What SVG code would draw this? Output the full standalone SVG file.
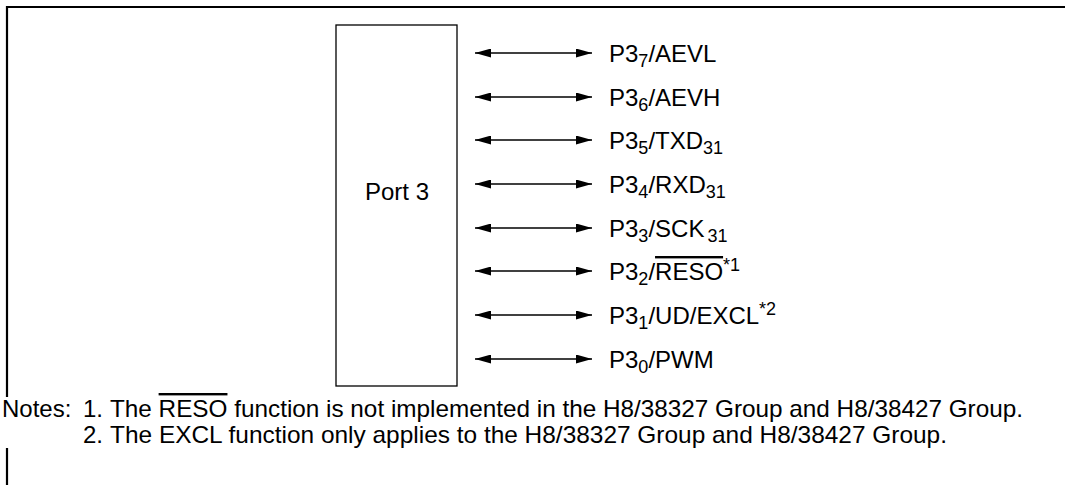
<svg xmlns="http://www.w3.org/2000/svg" width="1065" height="485" viewBox="0 0 1065 485">
<style>
text{font-family:"Liberation Sans",Arial,sans-serif;font-size:24px;fill:#000}
.frame{stroke:#000;stroke-width:2.2;fill:none}
.box{stroke:#000;stroke-width:1.3;fill:#fff}
.arr{stroke:#000;stroke-width:1.3;fill:none;marker-start:url(#ah);marker-end:url(#ah)}
.sub{font-size:18px}
.ov{text-decoration:overline}
</style>
<defs>
<marker id="ah" viewBox="0 0 16 9" refX="16" refY="4.5" markerWidth="16" markerHeight="9" markerUnits="userSpaceOnUse" orient="auto-start-reverse">
<path d="M0,0 L16,4.5 L0,9 Z" fill="#000"/>
</marker>
</defs>
<rect width="1065" height="485" fill="#fff"/>
<g id="frame">
<line class="frame" x1="6" y1="7" x2="1065" y2="7"/>
<line class="frame" x1="7" y1="6" x2="7" y2="397"/>
<line class="frame" x1="7" y1="448" x2="7" y2="485"/>
</g>
<g id="port3">
<rect class="box" x="336" y="25" width="121" height="361"/>
<text x="397" y="200" text-anchor="middle">Port 3</text>
</g>
<g id="connectors">
<line class="arr" x1="475" y1="53" x2="592" y2="53"/>
<line class="arr" x1="475" y1="97" x2="592" y2="97"/>
<line class="arr" x1="475" y1="140" x2="592" y2="140"/>
<line class="arr" x1="475" y1="184" x2="592" y2="184"/>
<line class="arr" x1="475" y1="228" x2="592" y2="228"/>
<line class="arr" x1="475" y1="271" x2="592" y2="271"/>
<line class="arr" x1="475" y1="315" x2="592" y2="315"/>
<line class="arr" x1="475" y1="359" x2="592" y2="359"/>
</g>
<g id="pins">
<text x="609" y="62">P3<tspan class="sub" dy="5">7</tspan><tspan dy="-5">/AEVL</tspan></text>
<text x="609" y="106">P3<tspan class="sub" dy="5">6</tspan><tspan dy="-5">/AEVH</tspan></text>
<text x="609" y="149">P3<tspan class="sub" dy="5">5</tspan><tspan dy="-5">/TXD</tspan><tspan class="sub" dy="5">31</tspan></text>
<text x="609" y="193">P3<tspan class="sub" dy="5">4</tspan><tspan dy="-5">/RXD</tspan><tspan class="sub" dy="5">31</tspan></text>
<text x="609" y="237">P3<tspan class="sub" dy="5">3</tspan><tspan dy="-5">/SCK</tspan><tspan class="sub" dx="3" dy="5">31</tspan></text>
<text x="609" y="280">P3<tspan class="sub" dy="5">2</tspan><tspan dy="-5">/</tspan><tspan class="ov">RESO</tspan><tspan class="sub" dy="-9">*1</tspan></text>
<text x="609" y="324">P3<tspan class="sub" dy="5">1</tspan><tspan dy="-5">/UD/EXCL</tspan><tspan class="sub" dy="-9">*2</tspan></text>
<text x="609" y="368">P3<tspan class="sub" dy="5">0</tspan><tspan dy="-5">/PWM</tspan></text>
</g>
<g id="notes">
<text x="2" y="417">Notes:</text>
<text x="83" y="417">1.</text>
<text x="110" y="417" textLength="913" lengthAdjust="spacingAndGlyphs">The <tspan class="ov">RESO</tspan> function is not implemented in the H8/38327 Group and H8/38427 Group.</text>
<text x="83" y="443">2.</text>
<text x="110" y="443" textLength="837" lengthAdjust="spacingAndGlyphs">The EXCL function only applies to the H8/38327 Group and H8/38427 Group.</text>
</g>
</svg>
